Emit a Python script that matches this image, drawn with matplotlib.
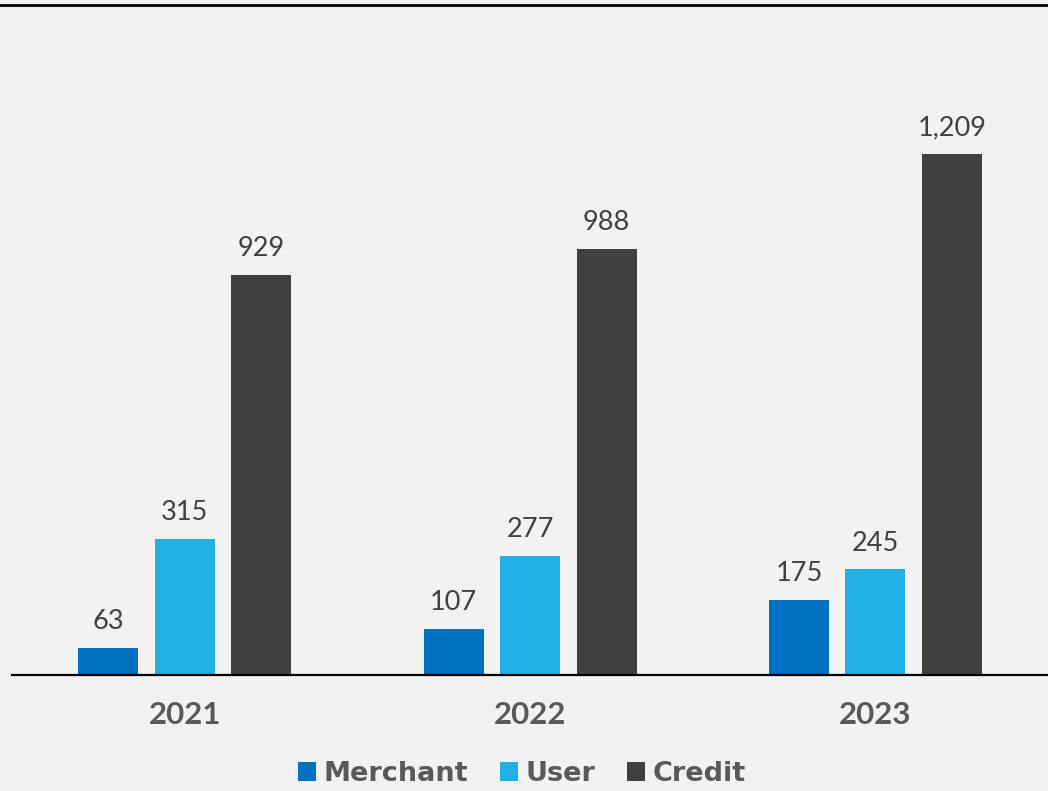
import matplotlib
matplotlib.use("Agg")
import matplotlib.pyplot as plt
from matplotlib.lines import Line2D
from matplotlib.patches import Patch
import numpy as np

years = ["2021", "2022", "2023"]
series_names = ["Merchant", "User", "Credit"]
merchant = [63, 107, 175]
user = [315, 277, 245]
credit = [929, 988, 1209]
colors = ["#0070c0", "#21b0e6", "#404040"]

plt.rcParams["font.family"] = ["Lato", "DejaVu Sans"]

W, H = 1048, 791
fig = plt.figure(figsize=(W / 100, H / 100), dpi=100, facecolor="#f2f2f2")

left, right = 12, 1048
bottom, top = 675, 30
ax = fig.add_axes([left / W, 1 - bottom / H, (right - left) / W, (bottom - top) / H])
ax.set_facecolor("#f2f2f2")

x = np.arange(len(years))
width = 0.174
offsets = [-0.221, 0.0, 0.222]
values = [merchant, user, credit]

for vals, off, col, name in zip(values, offsets, colors, series_names):
    bars = ax.bar(x + off, vals, width=width, color=col, label=name, zorder=2)
    for b, v in zip(bars, vals):
        ax.annotate(f"{v:,}", (b.get_x() + b.get_width() / 2, v),
                    xytext=(0, 10), textcoords="offset points",
                    ha="center", va="bottom", fontsize=19.5,
                    color="#404040", fontweight="normal")

ax.set_xlim(-0.5, 2.5)
ax.set_ylim(0, (bottom - top) / 0.431)

for s in ["top", "right", "left"]:
    ax.spines[s].set_visible(False)
ax.spines["bottom"].set_color("#000000")
ax.spines["bottom"].set_linewidth(1.6)
ax.set_yticks([])
ax.set_xticks(x)
ax.set_xticklabels(years, fontsize=22.5, fontweight="bold", color="#595959")
ax.tick_params(axis="x", length=0, pad=19)

# heavy rule across the top of the figure
fig.add_artist(Line2D([0, 1], [1 - 4.5 / H, 1 - 4.5 / H], color="#000000",
                      linewidth=2.0, transform=fig.transFigure))

handles = [Patch(facecolor=c, edgecolor="none") for c in colors]
leg = fig.legend(handles, series_names, loc="center", bbox_to_anchor=(522 / W, 1 - 774 / H),
                 ncol=3, frameon=False, handlelength=0.66, handleheight=0.66,
                 handletextpad=0.3, columnspacing=1.15, borderpad=0,
                 prop={"family": "DejaVu Sans", "size": 19.5, "weight": "bold"})
for t in leg.get_texts():
    t.set_color("#595959")

fig.savefig("out.png", dpi=100, facecolor=fig.get_facecolor())
